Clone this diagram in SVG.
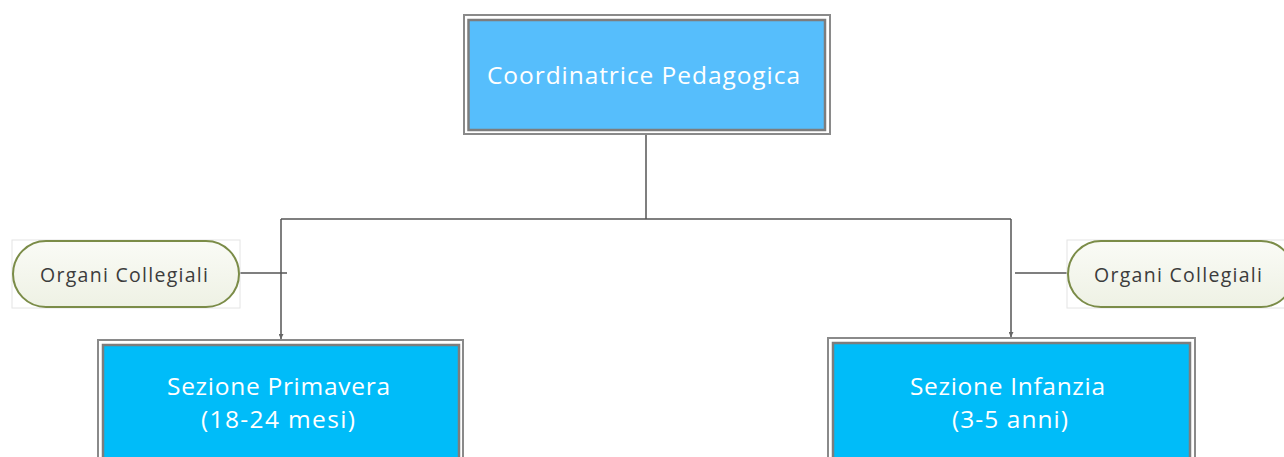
<svg xmlns="http://www.w3.org/2000/svg" width="1284" height="457" viewBox="0 0 1284 457">
  <style>
    .frame { fill: #ffffff; stroke: #8a8a8a; stroke-width: 2; }
    .inner { stroke: #7d7d7d; stroke-width: 2.5; }
    .boxText { font-family: "Open Sans", "DejaVu Sans", sans-serif; font-size: 24.5px; fill: #ffffff; text-anchor: middle; }
    .pillText { font-family: "Open Sans", "DejaVu Sans", sans-serif; font-size: 19.5px; fill: #3c3c3c; text-anchor: middle; }
    .pill { fill: url(#pillFill); stroke: #7b8c48; stroke-width: 2; }
    .pillBg { fill: #ffffff; stroke: #e4e4e4; stroke-width: 1; }
    .conn { fill: none; stroke: #555555; stroke-width: 1.5; }
  </style>
  <defs>
    <linearGradient id="pillFill" x1="0" y1="0" x2="0" y2="1">
      <stop offset="0" stop-color="#fafbf6"/>
      <stop offset="1" stop-color="#eef1e4"/>
    </linearGradient>
    <marker id="arrow" viewBox="0 0 6 6" refX="6" refY="3" markerWidth="5" markerHeight="5" orient="auto" markerUnits="userSpaceOnUse">
      <path d="M0,0 L6,3 L0,6 Z" fill="#666666"/>
    </marker>
  </defs>

  <rect width="1284" height="457" fill="#ffffff"/>

  <!-- connectors -->
  <g id="connectors">
    <path class="conn" d="M646,134 V219"/>
    <path class="conn" d="M281,219 H1011"/>
    <path class="conn" d="M281,219 V339" marker-end="url(#arrow)"/>
    <path class="conn" d="M1011,219 V337" marker-end="url(#arrow)"/>
    <path class="conn" d="M240,273 H287"/>
    <path class="conn" d="M1015,273 H1067"/>
  </g>

  <!-- top node -->
  <g id="coordinatrice">
    <rect class="frame" x="464" y="15" width="366" height="119"/>
    <rect class="inner" x="468.5" y="20" width="356.5" height="110" fill="#56befc"/>
    <text class="boxText" x="643.5" y="84" textLength="313" lengthAdjust="spacing">Coordinatrice Pedagogica</text>
  </g>

  <!-- left side pill -->
  <g id="organi-sx">
    <rect class="pillBg" x="12" y="240" width="228" height="68"/>
    <rect class="pill" x="13" y="241" width="226" height="66" rx="33" ry="33"/>
    <text class="pillText" x="124" y="282" textLength="168" lengthAdjust="spacing">Organi Collegiali</text>
  </g>

  <!-- right side pill -->
  <g id="organi-dx">
    <rect class="pillBg" x="1067" y="240" width="230" height="68"/>
    <rect class="pill" x="1068" y="241" width="226" height="66" rx="33" ry="33"/>
    <text class="pillText" x="1178" y="282" textLength="168" lengthAdjust="spacing">Organi Collegiali</text>
  </g>

  <!-- bottom left node -->
  <g id="primavera">
    <rect class="frame" x="98" y="340" width="365" height="130"/>
    <rect class="inner" x="103" y="345" width="356" height="125" fill="#00bcf9"/>
    <text class="boxText" x="278.5" y="395" textLength="223" lengthAdjust="spacing">Sezione Primavera</text>
    <text class="boxText" x="278" y="428" textLength="154" lengthAdjust="spacing">(18-24 mesi)</text>
  </g>

  <!-- bottom right node -->
  <g id="infanzia">
    <rect class="frame" x="828" y="338" width="367" height="130"/>
    <rect class="inner" x="833" y="343" width="357" height="125" fill="#00bcf9"/>
    <text class="boxText" x="1007.5" y="395" textLength="195" lengthAdjust="spacing">Sezione Infanzia</text>
    <text class="boxText" x="1010" y="428" textLength="116" lengthAdjust="spacing">(3-5 anni)</text>
  </g>
</svg>
